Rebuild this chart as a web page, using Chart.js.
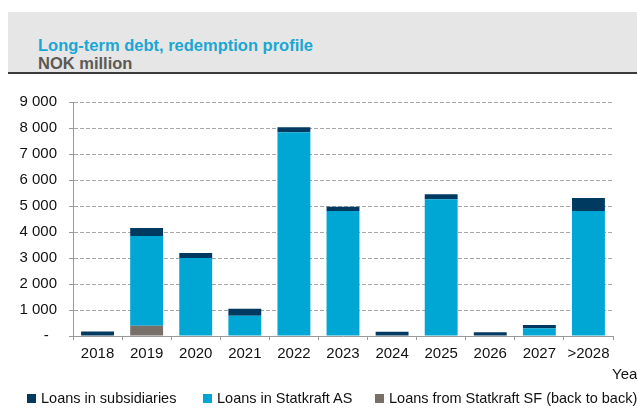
<!DOCTYPE html>
<html>
<head>
<meta charset="utf-8">
<script src="https://cdn.jsdelivr.net/npm/chart.js@4"></script>
<style>
  body { margin: 0; width: 637px; height: 414px; position: relative; overflow: hidden; background: #fff; font-family: Arial, "Liberation Sans", sans-serif; }
  #header { position: absolute; left: 8px; top: 12px; width: 629px; height: 60px; background: #e6e6e6; border-bottom: 2px solid #3a3a3a; }
  .ttl { position: absolute; left: 38px; font-weight: bold; font-size: 16.5px; line-height: 18px; white-space: nowrap; }
  #title { top: 36px; color: #1aa7d4; }
  #subtitle { top: 54px; color: #5e5954; }
  #wrap { position: absolute; left: 0; top: 0; width: 637px; height: 414px; }
  .leg { position: absolute; top: 389px; font-size: 14.5px; line-height: 18px; color: #111; white-space: nowrap; }
  .leg i { display: inline-block; width: 9px; height: 9px; margin-right: 5px; vertical-align: -0px; }
</style>
</head>
<body>
<div id="header"></div>
<div class="ttl" id="title">Long-term debt, redemption profile</div>
<div class="ttl" id="subtitle">NOK million</div>
<div id="wrap"><canvas id="debtChart"></canvas></div>
<div id="legend"></div>
<script>
const years = ['2018', '2019', '2020', '2021', '2022', '2023', '2024', '2025', '2026', '2027', '>2028'];
const loansSubsidiaries = [170, 300, 190, 270, 190, 165, 165, 190, 140, 130, 500];
const loansStatkraftAS = [0, 3460, 3000, 780, 7840, 4810, 0, 5260, 0, 295, 4810];
const loansStatkraftSF = [0, 390, 0, 0, 0, 0, 0, 0, 0, 0, 0];
const yTickLabels = ['-  ', '1 000', '2 000', '3 000', '4 000', '5 000', '6 000', '7 000', '8 000', '9 000'];

const colSubs = '#003a60';
const colAS = '#00a7d4';
const colSF = '#776f68';

// legend order as in the original: subsidiaries, AS, SF
const legendItems = [
    { label: 'Loans in subsidiaries', color: colSubs, left: 27 },
    { label: 'Loans in Statkraft AS', color: colAS, left: 203 },
    { label: 'Loans from Statkraft SF (back to back)', color: colSF, left: 375 }
];
document.getElementById('legend').innerHTML = legendItems.map(it =>
    `<div class="leg" style="left:${it.left}px"><i style="background:${it.color}"></i>${it.label}</div>`
).join('');

const yearLabel = {
    id: 'yearLabel',
    afterDraw(chart) {
        const ctx = chart.ctx;
        ctx.save();
        ctx.font = '15px Arial, "Liberation Sans", sans-serif';
        ctx.fillStyle = '#111';
        ctx.textBaseline = 'middle';
        ctx.textAlign = 'left';
        ctx.fillText('Year', 612, 375);
        ctx.restore();
    }
};

const tickFont = { family: 'Arial, "Liberation Sans", sans-serif', size: 15 };

new Chart(document.getElementById('debtChart').getContext('2d'), {
    type: 'bar',
    data: {
        labels: years,
        datasets: [
            { label: 'Loans from Statkraft SF (back to back)', data: loansStatkraftSF, backgroundColor: colSF },
            { label: 'Loans in Statkraft AS', data: loansStatkraftAS, backgroundColor: colAS },
            { label: 'Loans in subsidiaries', data: loansSubsidiaries, backgroundColor: colSubs }
        ]
    },
    options: {
        responsive: true,
        maintainAspectRatio: false,
        animation: false,
        datasets: { bar: { barPercentage: 0.67, categoryPercentage: 1.0 } },
        layout: { padding: { left: 0, right: 24, top: 102, bottom: 0 } },
        plugins: {
            legend: { display: false },
            tooltip: { enabled: false }
        },
        scales: {
            x: {
                stacked: true,
                afterFit: s => { s.height = 78; },
                ticks: { color: '#111', font: tickFont, padding: 5, maxRotation: 0, autoSkip: false },
                grid: { offset: true, drawOnChartArea: false, drawTicks: true, tickLength: 4, color: '#9a9a9a' },
                border: { color: '#9a9a9a', width: 1 }
            },
            y: {
                stacked: true,
                min: 0,
                max: 9000,
                afterFit: s => { s.width = 73; },
                ticks: {
                    stepSize: 1000,
                    color: '#111',
                    font: tickFont,
                    padding: 12,
                    callback: (v) => yTickLabels[Math.round(v / 1000)]
                },
                grid: { color: '#a6a6a6', tickLength: 4, tickColor: '#9a9a9a', tickBorderDash: [] },
                border: { color: '#9a9a9a', width: 1, dash: [4, 2] }
            }
        }
    },
    plugins: [yearLabel]
});
</script>
</body>
</html>
